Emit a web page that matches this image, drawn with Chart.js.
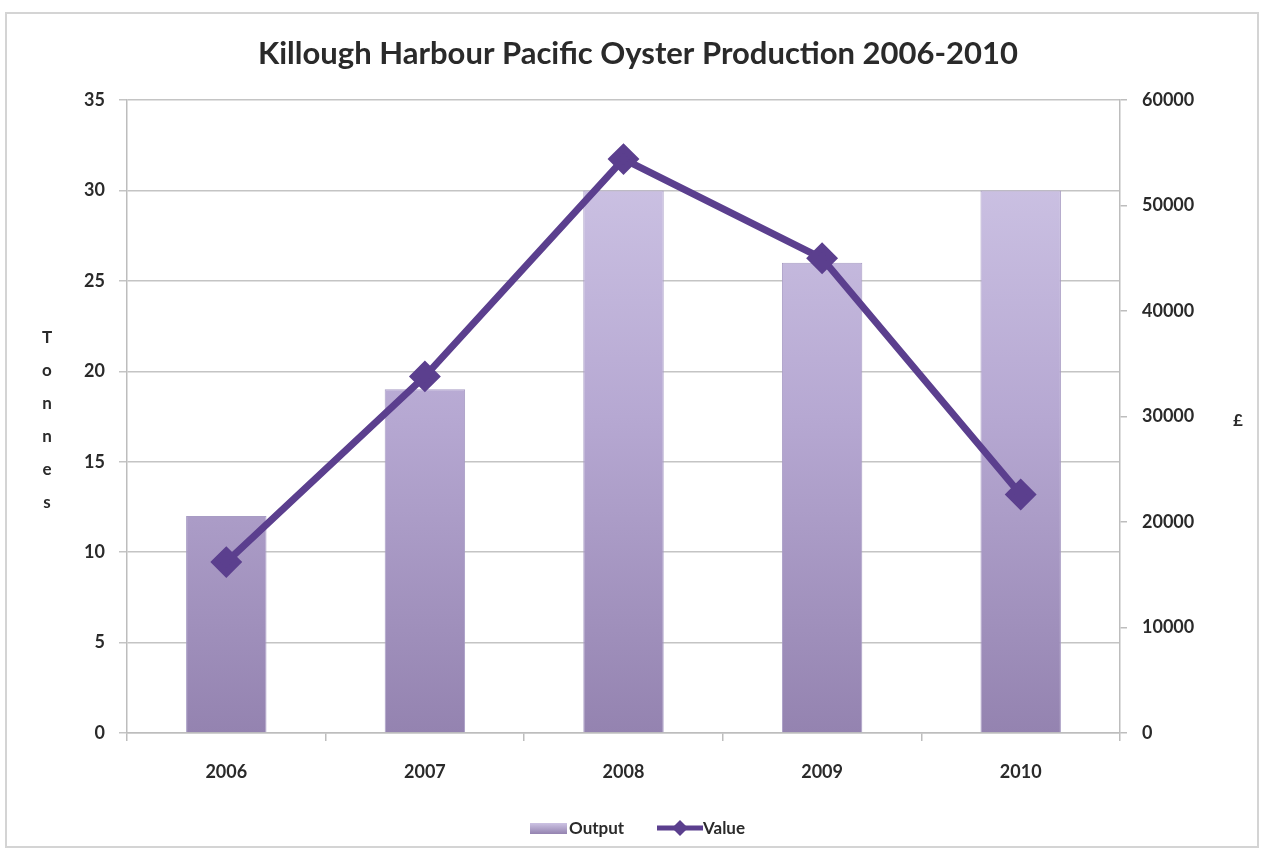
<!DOCTYPE html>
<html>
<head>
<meta charset="utf-8">
<script src="https://cdn.jsdelivr.net/npm/chart.js@4.4.1/dist/chart.umd.min.js"></script>
<style>
  html, body { margin: 0; padding: 0; background: #ffffff; }
  #wrap { position: relative; width: 1265px; height: 855px; }
  #frame { position: absolute; left: 5px; top: 12px; width: 1254px; height: 836px;
           border: 2px solid #d4d4d4; box-sizing: border-box; pointer-events: none; }
  canvas { position: absolute; left: 0; top: 0; }
</style>
</head>
<body>
<div id="wrap">
  <canvas id="c" width="1265" height="855"></canvas>
  <div id="frame"></div>
</div>
<script>
// Killough Harbour Pacific oyster production, 2006-2010
const years = ['2006', '2007', '2008', '2009', '2010'];
const outputTonnes = [12, 19, 30, 26, 30];
const valuePounds = [16200, 33800, 54400, 45000, 22600];
const tonnesTicks = [0, 5, 10, 15, 20, 25, 30, 35];
const poundTicks = [0, 10000, 20000, 30000, 40000, 50000, 60000];

const chartTitle = 'Killough Harbour Pacific Oyster Production 2006-2010';
const leftAxisTitle = 'Tonnes';
const rightAxisTitle = '£';

const FONT = 'Lato, "Open Sans", sans-serif';
const LINE_COLOR = '#5b3f8e';
const TEXT_COLOR = '#2a2a2a';
const TICK_FONT = { family: FONT, size: 18, weight: 'bold' };

function barGradient(ctx) {
  const chart = ctx.chart;
  const area = chart.chartArea;
  if (!area) return '#b5a8d0';
  const g = chart.ctx.createLinearGradient(0, area.top, 0, area.bottom);
  g.addColorStop(0, '#d2c9e8');
  g.addColorStop(0.5, '#b6a8d2');
  g.addColorStop(1, '#9483b0');
  return g;
}

// Title, vertical axis titles and legend drawn on the canvas
const decorations = {
  id: 'decorations',
  afterDraw(chart) {
    const ctx = chart.ctx;
    ctx.save();
    ctx.fillStyle = TEXT_COLOR;
    ctx.textAlign = 'center';
    ctx.textBaseline = 'middle';

    ctx.font = 'bold 31px ' + FONT;
    ctx.fillText(chartTitle, 638, 54);

    ctx.font = 'bold 17px ' + FONT;
    const letters = leftAxisTitle.split('');
    letters.forEach((ch, i) => ctx.fillText(ch, 47, 338 + i * 33));
    ctx.fillText(rightAxisTitle, 1238, 421);

    // legend
    const ly = 828;
    const bx = 530;
    const sg = ctx.createLinearGradient(0, ly - 6, 0, ly + 6);
    sg.addColorStop(0, '#d2c9e8');
    sg.addColorStop(1, '#9483b0');
    ctx.fillStyle = sg;
    ctx.fillRect(bx, ly - 5, 37, 11);
    ctx.fillStyle = TEXT_COLOR;
    ctx.textAlign = 'left';
    ctx.font = 'bold 17px ' + FONT;
    ctx.fillText('Output', bx + 39, ly + 1);

    const lx = 657;
    ctx.strokeStyle = LINE_COLOR;
    ctx.lineWidth = 5;
    ctx.beginPath();
    ctx.moveTo(lx, ly);
    ctx.lineTo(lx + 46, ly);
    ctx.stroke();
    ctx.fillStyle = LINE_COLOR;
    ctx.beginPath();
    ctx.moveTo(lx + 23, ly - 8);
    ctx.lineTo(lx + 31, ly);
    ctx.lineTo(lx + 23, ly + 8);
    ctx.lineTo(lx + 15, ly);
    ctx.closePath();
    ctx.fill();
    ctx.fillStyle = TEXT_COLOR;
    ctx.fillText('Value', lx + 46, ly + 1);
    ctx.restore();
  }
};

new Chart(document.getElementById('c'), {
  data: {
    labels: years,
    datasets: [
      {
        type: 'line',
        label: 'Value',
        data: valuePounds,
        yAxisID: 'y1',
        borderColor: LINE_COLOR,
        backgroundColor: LINE_COLOR,
        borderWidth: 7,
        pointStyle: 'rectRot',
        pointRadius: 11,
        pointBackgroundColor: LINE_COLOR,
        pointBorderColor: LINE_COLOR,
        tension: 0,
        order: 0
      },
      {
        type: 'bar',
        label: 'Output',
        data: outputTonnes,
        yAxisID: 'y',
        backgroundColor: barGradient,
        borderColor: '#a89cc4',
        borderWidth: 1,
        categoryPercentage: 1,
        barPercentage: 0.405,
        order: 1
      }
    ]
  },
  options: {
    responsive: false,
    animation: false,
    devicePixelRatio: 1,
    layout: { padding: { top: 100, bottom: 0, left: 0, right: 0 } },
    plugins: {
      legend: { display: false },
      title: { display: false },
      tooltip: { enabled: false }
    },
    scales: {
      x: {
        offset: true,
        grid: {
          offset: true,
          drawOnChartArea: false,
          drawTicks: true,
          tickLength: 8,
          color: '#bdbdbd',
          lineWidth: 1.5
        },
        border: { color: '#bdbdbd', width: 1.5 },
        ticks: { color: TEXT_COLOR, font: TICK_FONT, padding: 20 },
        afterFit(scale) { scale.height = 855 - 733; }
      },
      y: {
        position: 'left',
        min: 0,
        max: 35,
        afterBuildTicks(scale) { scale.ticks = tonnesTicks.map(v => ({ value: v })); },
        grid: { color: '#c4c4c4', lineWidth: 1.5, tickLength: 8 },
        border: { color: '#bdbdbd', width: 1.5 },
        ticks: { color: TEXT_COLOR, font: TICK_FONT, padding: 14 },
        afterFit(scale) { scale.width = 127; }
      },
      y1: {
        position: 'right',
        min: 0,
        max: 60000,
        afterBuildTicks(scale) { scale.ticks = poundTicks.map(v => ({ value: v })); },
        grid: { drawOnChartArea: false, color: '#bdbdbd', lineWidth: 1.5, tickLength: 7 },
        border: { color: '#bdbdbd', width: 1.5 },
        ticks: {
          color: TEXT_COLOR, font: TICK_FONT, padding: 15,
          callback: v => String(v)
        },
        afterFit(scale) { scale.width = 1265 - 1120; }
      }
    }
  },
  plugins: [decorations]
});
</script>
</body>
</html>
